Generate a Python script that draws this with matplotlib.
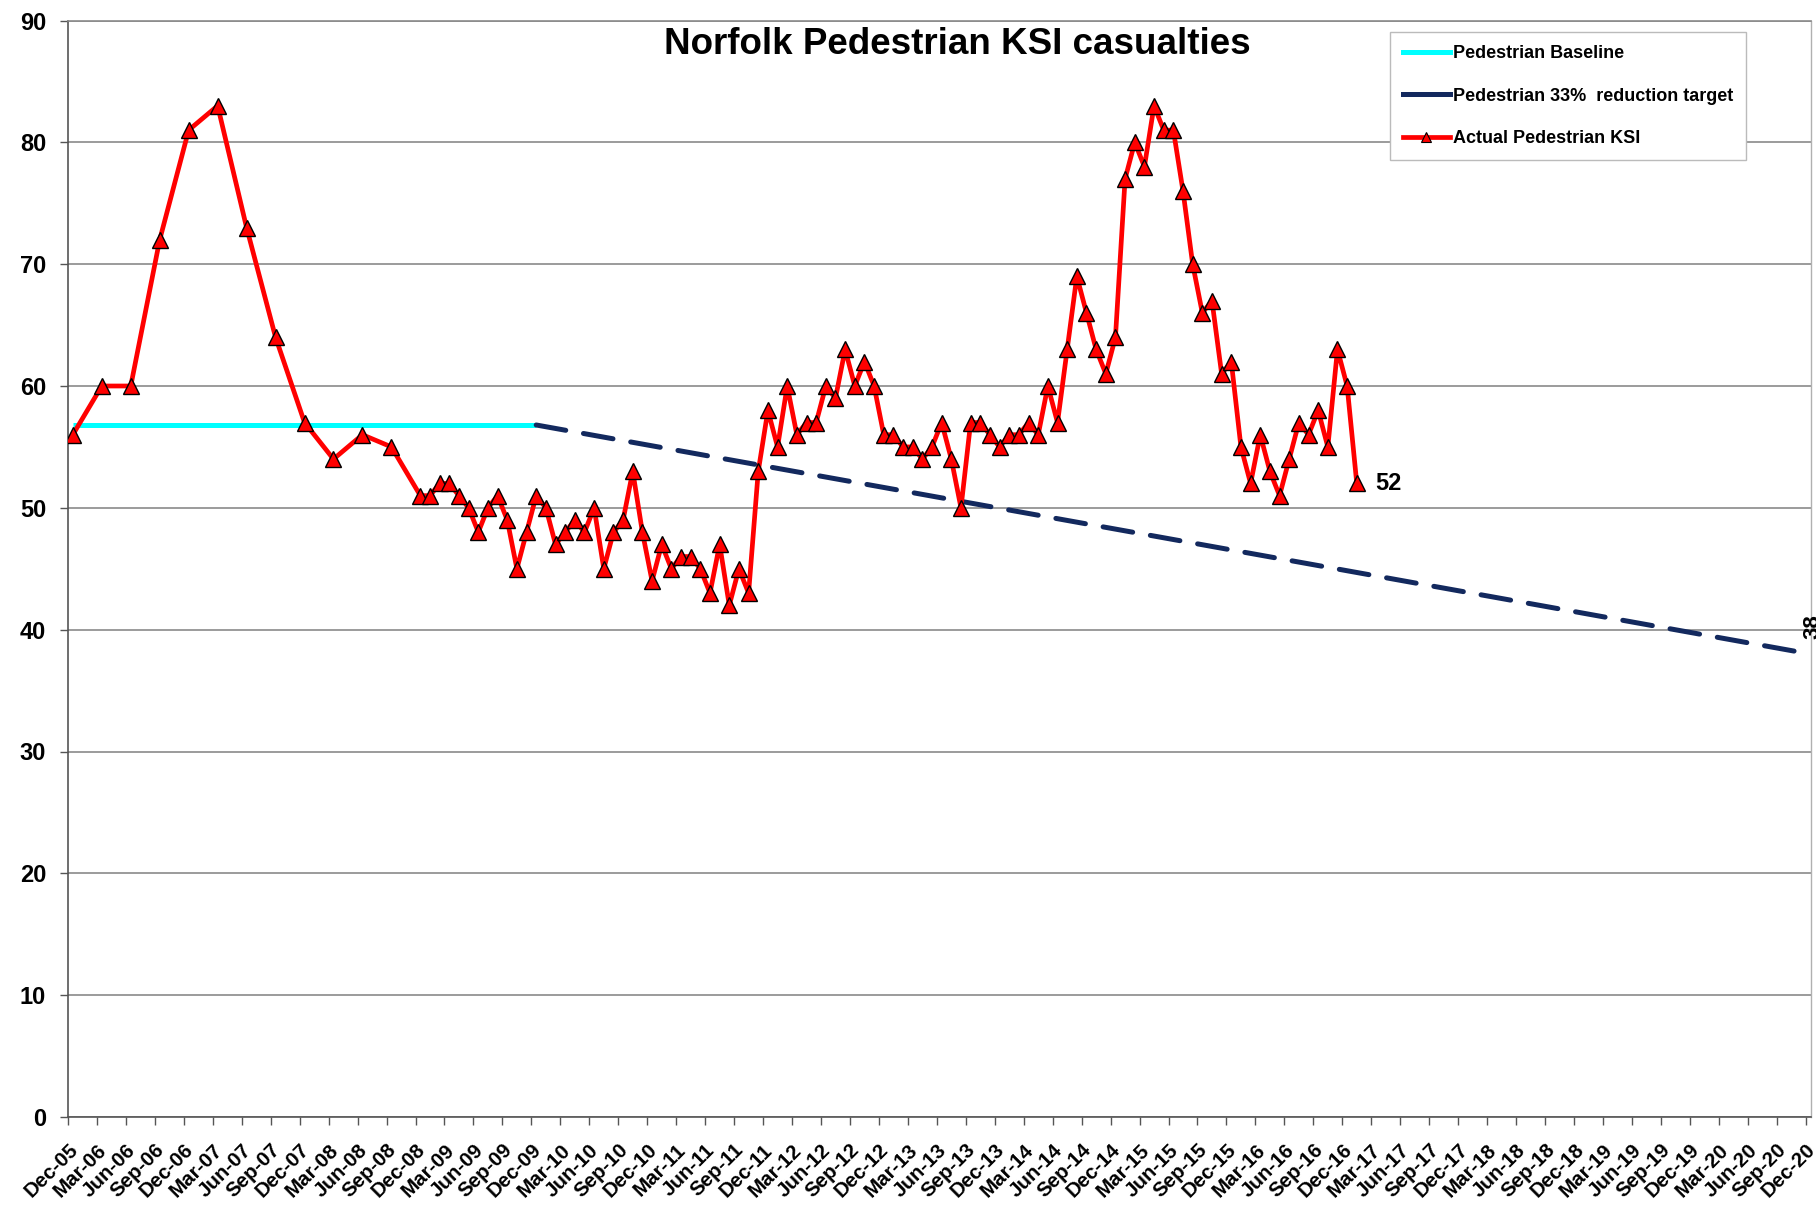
import matplotlib
matplotlib.use('Agg')
import matplotlib.pyplot as plt
import matplotlib.transforms as mtransforms
from matplotlib.lines import Line2D
import numpy as np
import pandas as pd

plt.rcParams['font.family'] = ['Liberation Sans', 'DejaVu Sans']

# ---------------- data ----------------
title = "Norfolk Pedestrian KSI casualties"

tick_labels = [d.strftime('%b-%y') for d in
               pd.date_range('2005-12-01', '2020-12-01', freq='3MS')]

actual_dates = (list(pd.date_range('2005-12-01', '2008-09-01', freq='3MS')) +
                list(pd.date_range('2008-12-01', '2017-01-01', freq='MS')))
actual_values = [
    56, 60, 60, 72, 81, 83, 73, 64, 57, 54, 56, 55,            # quarterly Dec-05 .. Sep-08
    51, 51, 52, 52, 51, 50, 48, 50, 51, 49, 45, 48,            # Dec-08 .. Nov-09
    51, 50, 47, 48, 49, 48, 50, 45, 48, 49, 53, 48,            # Dec-09 .. Nov-10
    44, 47, 45, 46, 46, 45, 43, 47, 42, 45, 43, 53,            # Dec-10 .. Nov-11
    58, 55, 60, 56, 57, 57, 60, 59, 63, 60, 62, 60,            # Dec-11 .. Nov-12
    56, 56, 55, 55, 54, 55, 57, 54, 50, 57, 57, 56,            # Dec-12 .. Nov-13
    55, 56, 56, 57, 56, 60, 57, 63, 69, 66, 63, 61,            # Dec-13 .. Nov-14
    64, 77, 80, 78, 83, 81, 81, 76, 70, 66, 67, 61,            # Dec-14 .. Nov-15
    62, 55, 52, 56, 53, 51, 54, 57, 56, 58, 55, 63,            # Dec-15 .. Nov-16
    60, 52,                                                    # Dec-16 .. Jan-17
]

baseline_dates = ['2005-12-01', '2009-12-01']
baseline_values = [56.8, 56.8]

target_dates = ['2009-12-01', '2020-12-01']
target_values = [56.8, 38.0]

legend_labels = ['Pedestrian Baseline',
                 'Pedestrian 33%  reduction target',
                 'Actual Pedestrian KSI']


def month_index(d):
    d = pd.Timestamp(d)
    return (d.year - 2005) * 12 + d.month - 12


# ---------------- figure ----------------
W, H = 1816, 1205
fig = plt.figure(figsize=(W / 100, H / 100), dpi=100)
ax_left, ax_right, ax_top, ax_bottom = 68, 1811, 20.5, 1117
ax = fig.add_axes([ax_left / W, 1 - ax_bottom / H,
                   (ax_right - ax_left) / W, (ax_bottom - ax_top) / H])

bx = [month_index(d) for d in baseline_dates]
tx = [month_index(d) for d in target_dates]
axx = [month_index(d) for d in actual_dates]

ax.plot(bx, baseline_values, color='#00FFFF', lw=3.6, solid_capstyle='butt', zorder=3)
ax.plot(tx, target_values, color='#13295E', lw=3.6, dashes=(6.0, 3.6),
        dash_capstyle='round', zorder=3)
ax.plot(axx, actual_values, color='#FF0000', lw=3.4, marker='^', markersize=12,
        markerfacecolor='#FF0000', markeredgecolor='black', markeredgewidth=1.0,
        zorder=4)

# value labels
ax.annotate(str(actual_values[-1]), xy=(axx[-1], actual_values[-1]),
            xytext=(13, 0), textcoords='offset points', ha='left', va='center',
            fontsize=17, fontweight='bold', color='black', zorder=5)
ax.annotate('{:.0f}'.format(target_values[-1]), xy=(tx[-1], target_values[-1]),
            xytext=(-6, 19.5), textcoords='offset points', ha='left', va='center',
            rotation=90, fontsize=16, fontweight='bold', color='black',
            annotation_clip=False, zorder=5)

# axes
ax.set_xlim(-0.5, 180.05)
ax.set_ylim(0, 90)
ax.set_yticks(np.arange(0, 91, 10))
ax.set_yticklabels([str(v) for v in range(0, 91, 10)], fontsize=17, fontweight='bold')
ax.set_xticks(np.arange(0, 181, 3) - 0.5)
ax.set_xticklabels(tick_labels, rotation=45, ha='right', rotation_mode='anchor',
                   fontsize=14.8, fontweight='bold')
offset = mtransforms.ScaledTranslation(5 / 100, 0, fig.dpi_scale_trans)
for lab in ax.get_xticklabels():
    lab.set_transform(lab.get_transform() + offset)

ax.tick_params(axis='y', length=5.8, width=1.0, color='#555555', pad=10)
ax.tick_params(axis='x', length=5.8, width=1.0, color='#555555', pad=11)

ax.yaxis.grid(True, color='#8a8a8a', lw=1.2)
ax.set_axisbelow(True)
for s in ['left', 'bottom']:
    ax.spines[s].set_color('#555555')
    ax.spines[s].set_linewidth(1.2)
ax.spines['top'].set_color('#8a8a8a')
ax.spines['top'].set_linewidth(1.2)
ax.spines['right'].set_color('#b0b0b0')
ax.spines['right'].set_linewidth(1.0)

# title
fig.text(957 / W, 1 - 44 / H, title, ha='center', va='center',
         fontsize=26.5, fontweight='bold')

# legend
handles = [
    Line2D([], [], color='#00FFFF', lw=3.6),
    Line2D([], [], color='#13295E', lw=3.6),
    Line2D([], [], color='#FF0000', lw=3.4, marker='^', markersize=7,
           markerfacecolor='#FF0000', markeredgecolor='black', markeredgewidth=0.8),
]
leg = ax.legend(handles, legend_labels, loc='upper left',
                bbox_to_anchor=(1390 / W, 1 - 32 / H), bbox_transform=fig.transFigure,
                prop={'size': 13, 'weight': 'bold'}, frameon=True, fancybox=False,
                edgecolor='#bbbbbb', framealpha=1, borderpad=0.72, labelspacing=1.42,
                handlelength=2.6, handletextpad=0.15, borderaxespad=0, numpoints=1)
leg.get_frame().set_linewidth(1.0)
leg.set_zorder(10)

fig.savefig('out.png', dpi=100, facecolor='white')
